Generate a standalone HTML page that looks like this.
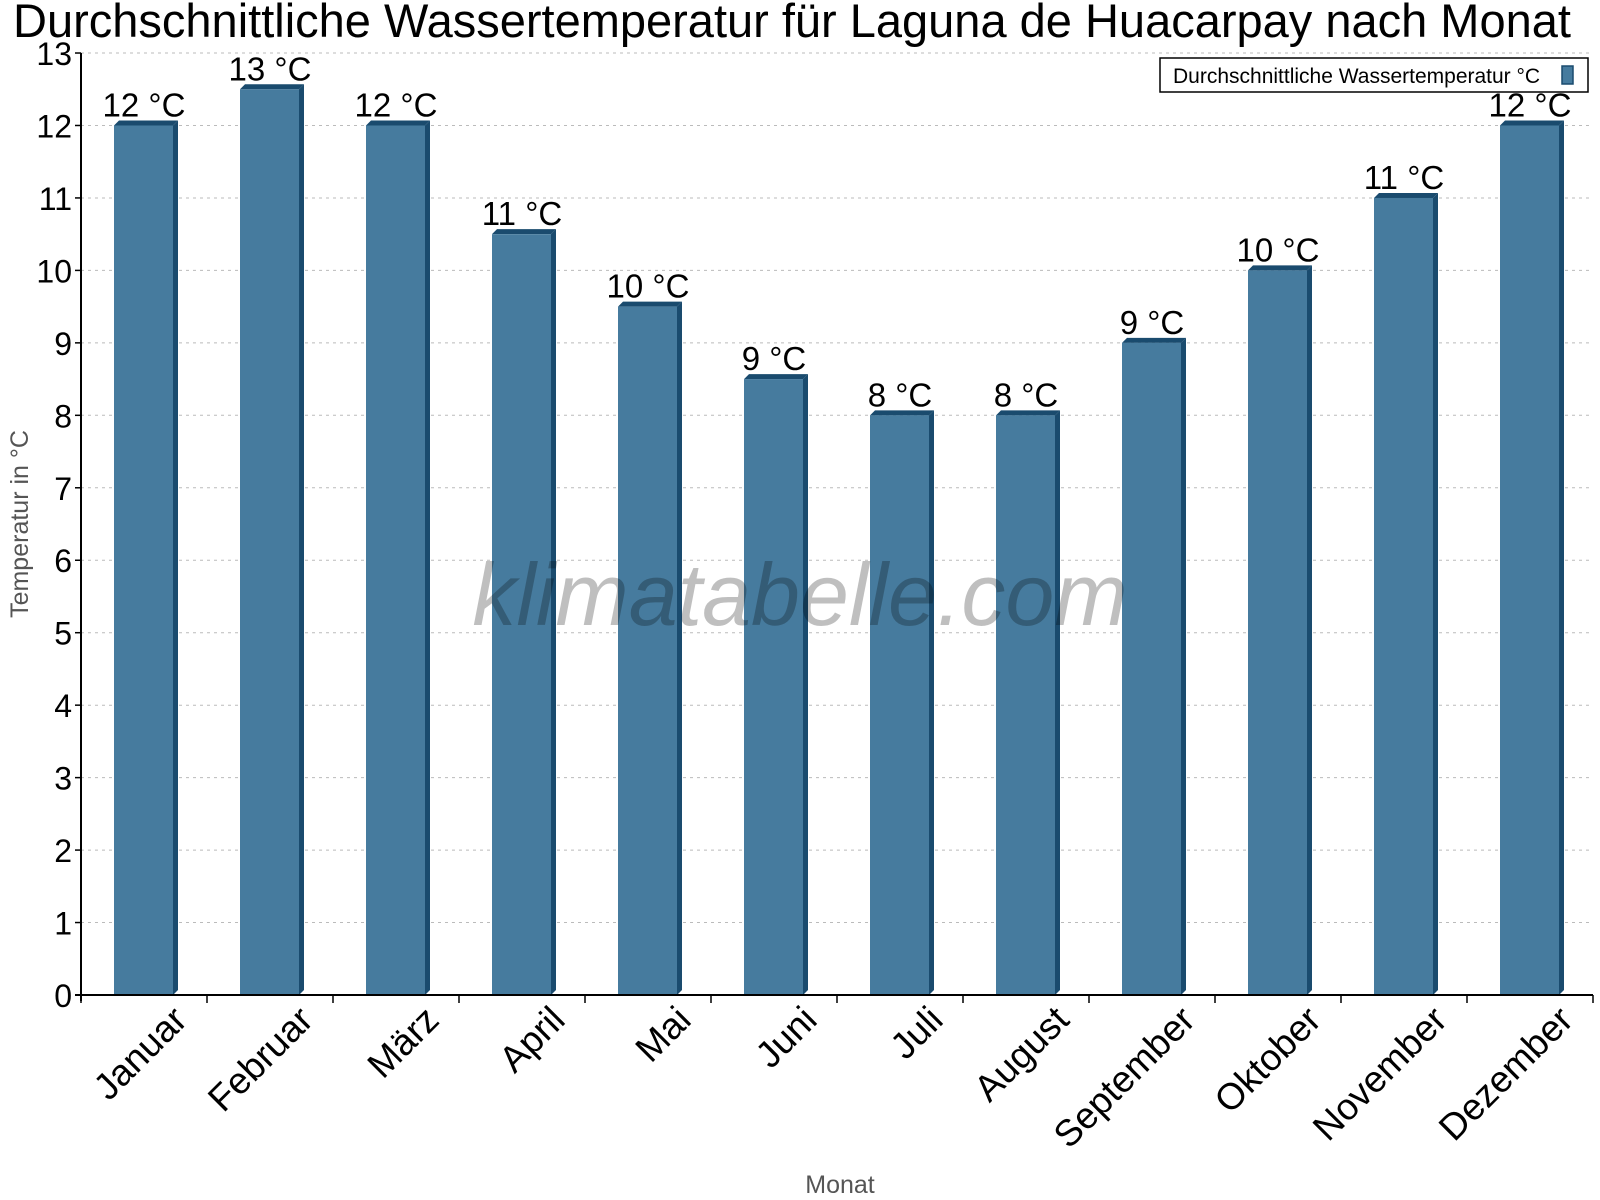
<!DOCTYPE html>
<html><head><meta charset="utf-8"><style>body{margin:0;background:#fff}svg{display:block}</style></head><body>
<svg width="1600" height="1200" xmlns="http://www.w3.org/2000/svg" font-family="Liberation Sans, sans-serif">
<text x="792" y="37" font-size="47" text-anchor="middle">Durchschnittliche Wassertemperatur für Laguna de Huacarpay nach Monat</text>
<g stroke="#bbb" stroke-dasharray="3,4" stroke-width="1">
<line x1="81" x2="1593" y1="53" y2="53"/><line x1="81" x2="1593" y1="125.5" y2="125.5"/><line x1="81" x2="1593" y1="198" y2="198"/><line x1="81" x2="1593" y1="270.4" y2="270.4"/><line x1="81" x2="1593" y1="342.9" y2="342.9"/><line x1="81" x2="1593" y1="415.3" y2="415.3"/><line x1="81" x2="1593" y1="487.8" y2="487.8"/><line x1="81" x2="1593" y1="560.2" y2="560.2"/><line x1="81" x2="1593" y1="632.7" y2="632.7"/><line x1="81" x2="1593" y1="705.2" y2="705.2"/><line x1="81" x2="1593" y1="777.6" y2="777.6"/><line x1="81" x2="1593" y1="850.1" y2="850.1"/><line x1="81" x2="1593" y1="922.5" y2="922.5"/>
</g>
<g id="bars"></g>
<text x="800" y="625" font-size="88" font-style="italic" fill="#000" fill-opacity="0.25" text-anchor="middle">klimatabelle.com</text>
<g stroke="#000" stroke-width="2"><line x1="81" y1="53" x2="81" y2="1001"/><line x1="75" y1="995" x2="1593" y2="995"/></g>
<g id="ticks" stroke="#000" stroke-width="1.5"></g>
<g id="ylab" font-size="32" text-anchor="end"></g>
<g id="xlab" font-size="37" text-anchor="end"></g>
<g id="vlab" font-size="33" text-anchor="middle"></g>
<text x="840" y="1193" font-size="25" fill="#555" text-anchor="middle">Monat</text>
<text transform="translate(28,524) rotate(-90)" font-size="25" fill="#555" text-anchor="middle">Temperatur in °C</text>
<rect x="1160" y="58" width="428" height="34" fill="#fff" stroke="#000" stroke-width="1.5"/>
<text x="1173" y="83" font-size="21">Durchschnittliche Wassertemperatur °C</text>
<rect x="1562" y="66" width="11" height="18" fill="#467b9e" stroke="#1a4b6e" stroke-width="1.5"/>
</svg>
<script>
const ns="http://www.w3.org/2000/svg";
const v=[12,12.5,12,10.5,9.5,8.5,8,8,9,10,11,12];
const lab=["12 °C","13 °C","12 °C","11 °C","10 °C","9 °C","8 °C","8 °C","9 °C","10 °C","11 °C","12 °C"];
const m=["Januar","Februar","März","April","Mai","Juni","Juli","August","September","Oktober","November","Dezember"];
const Y=x=>995-72.46*x;
function el(p,t,a,txt){const e=document.createElementNS(ns,t);for(const k in a)e.setAttribute(k,a[k]);if(txt!==undefined)e.textContent=txt;document.getElementById(p).appendChild(e);}
for(let i=0;i<12;i++){const c=81+126*i+63,x0=c-30,x1=c+29,y=Y(v[i]);
el("bars","polygon",{points:`${x1},${y} ${x1+5},${y-5} ${x1+5},990 ${x1},995`,fill:"#1a4b6e"});
el("bars","polygon",{points:`${x0},${y} ${x0+5},${y-5} ${x1+5},${y-5} ${x1},${y}`,fill:"#1a4b6e"});
el("bars","rect",{x:x0,y:y,width:x1-x0,height:995-y,fill:"#467b9e"});
el("vlab","text",{x:c,y:y-9},lab[i]);
el("xlab","text",{transform:`translate(${c+45},1022) rotate(-45)`},m[i]);
}
for(let i=0;i<=12;i++){const x=81+126*i;el("ticks","line",{x1:x,x2:x,y1:995,y2:1003});}
for(let k=0;k<=13;k++){el("ticks","line",{x1:75,x2:81,y1:Y(k),y2:Y(k)});el("ylab","text",{x:72,y:Y(k)+12},k);}
</script>
</body></html>
